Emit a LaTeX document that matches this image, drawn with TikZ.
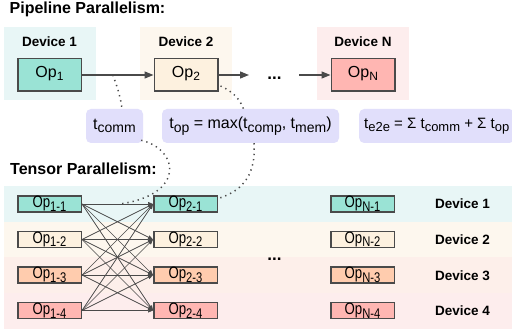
\documentclass[tikz,border=0pt]{standalone}
\usepackage{fontspec}
\setmainfont{Liberation Sans}
\usetikzlibrary{arrows.meta,calc}
\definecolor{cyanbg}{HTML}{E8F6F6}
\definecolor{cyanop}{HTML}{9AE3D5}
\definecolor{beigebg}{HTML}{FDF7EE}
\definecolor{beigeop}{HTML}{FDF1DF}
\definecolor{peachbg}{HTML}{FDEFEA}
\definecolor{peachop}{HTML}{FFCCAE}
\definecolor{pinkbg}{HTML}{FDEDED}
\definecolor{pinkop}{HTML}{FFB6B2}
\definecolor{lav}{HTML}{E1DFFB}
\definecolor{edgec}{HTML}{4A4A4A}
\newcommand\lowsub[2][14]{\raisebox{-3.5pt}{\fontsize{#1}{#1}\selectfont #2}}
\newcommand\tlab[1]{\scalebox{0.8}[1]{Op\lowsub[14]{#1}}}
\begin{document}
\begin{tikzpicture}[x=1pt,y=-1pt,
  bgbox/.style={draw=none, inner sep=0pt, outer sep=0pt, anchor=north west},
  opbox/.style={draw=edgec, line width=1.5pt, inner xsep=0pt, inner ysep=0pt, minimum width=63.5pt,
     text height=18.75pt, text depth=13.75pt, font=\fontsize{16}{18}\selectfont},
  tbox/.style={draw=edgec, line width=1.5pt, inner xsep=0pt, inner ysep=1pt, minimum width=63.5pt,
     text height=11pt, text depth=3pt, font=\fontsize{16.5}{18}\selectfont},
  devlab/.style={font=\bfseries\fontsize{13.5}{15}\selectfont, anchor=base, inner sep=0pt},
  title/.style={font=\bfseries\fontsize{16}{18}\selectfont, anchor=base west, inner sep=0pt},
  labbox/.style={fill=lav, rounded corners=5pt, minimum height=34pt, inner xsep=5pt,
     font=\fontsize{16}{18}\selectfont},
  flow/.style={draw=edgec, line width=1.3pt, -{Triangle[length=9pt,width=7pt]}},
  conn/.style={draw=edgec, line width=0.7pt, -{Triangle[length=5pt,width=4pt]}},
  dots/.style={draw=edgec, line width=1.5pt, dash pattern=on 1.3pt off 4pt},
  ell/.style={font=\bfseries\fontsize{17}{18}\selectfont, anchor=base, inner sep=0pt}]
\useasboundingbox (0,0) rectangle (512,334);
\clip (0,0) rectangle (512,334);
\fill[white] (0,0) rectangle (512,334);

% ---------- Pipeline ----------
\node[title] (tpipe) at (9.5,14) {Pipeline Parallelism:};

\node[bgbox, fill=cyanbg, minimum width=92pt, minimum height=73pt] (d1) at (4,27) {};
\node[bgbox, fill=beigebg, minimum width=92pt, minimum height=73pt] (d2) at (140,27) {};
\node[bgbox, fill=pinkbg, minimum width=92pt, minimum height=73pt] (dn) at (317,27) {};

\node[devlab] (l1) at (49.5,47) {Device 1};
\node[devlab] (l2) at (186,47) {Device 2};
\node[devlab] (ln) at (363,47) {Device N};

\node[opbox, fill=cyanop] (op1) at (49.5,75) {Op\lowsub[12]{1}};
\node[opbox, fill=beigeop] (op2) at (186,75) {Op\lowsub[12]{2}};
\node[opbox, fill=pinkop] (opn) at (363,75) {Op\lowsub[12]{N}};

\coordinate (c2) at (249,75);
\coordinate (cn) at (299,75);
\node[ell] (pdots) at (274.5,80) {...};
\draw[flow] (op1) -- (op2);
\draw[flow] (op2) -- (c2);
\draw[flow] (cn) -- (opn);

% ---------- labels ----------
\node[labbox, minimum width=57pt] (comm) at (114.5,126) {t\lowsub{comm}};
\node[labbox, minimum width=177pt] (top) at (250.5,126) {t\lowsub{op} = max(t\lowsub{comp}, t\lowsub{mem})};
\node[labbox, anchor=west, font=\fontsize{15}{17}\selectfont] (e2e) at (359,126) {t\lowsub[13]{e2e} = Σ t\lowsub[13]{comm} + Σ t\lowsub[13]{op}};

% ---------- Tensor ----------
\node[title] (ttens) at (10,175) {Tensor Parallelism:};

\node[bgbox, fill=cyanbg, minimum width=508pt, minimum height=36pt] (row1) at (4,186) {};
\node[bgbox, fill=beigebg, minimum width=508pt, minimum height=35pt] (row2) at (4,222) {};
\node[bgbox, fill=peachbg, minimum width=508pt, minimum height=36pt] (row3) at (4,257) {};
\node[bgbox, fill=pinkbg, minimum width=508pt, minimum height=36pt] (row4) at (4,293) {};

\foreach \i/\y/\c in {1/204/cyanop, 2/239.5/beigeop, 3/275/peachop, 4/310.5/pinkop}{
  \node[tbox, fill=\c] (a\i) at (49.5,\y) {\tlab{1-\i}};
  \node[tbox, fill=\c] (b\i) at (185.5,\y) {\tlab{2-\i}};
  \node[tbox, fill=\c] (n\i) at (362.5,\y) {\tlab{N-\i}};
}
\node[devlab] (r1) at (462.5,209) {Device 1};
\node[devlab] (r2) at (462.5,245) {Device 2};
\node[devlab] (r3) at (462.5,280.5) {Device 3};
\node[devlab] (r4) at (462.5,316) {Device 4};
\node[ell] (tdots) at (274.5,261) {...};

\foreach \i in {1,...,4}{
  \foreach \j in {1,...,4}{
    \draw[conn] (a\i.east) -- (b\j.west);
  }
}

% ---------- dotted links ----------
\coordinate (pa) at ($(op1.east)!0.43!(op2.west)$);
\coordinate (pb) at ($(a1.east)!0.53!(b1.west)$);
\draw[dots] (pa) .. controls (118,88) and (121,100) .. ($(comm.north)+(7.5,0)$);
\draw[dots] ($(comm.south east)+(-2,-3)$) .. controls (180,150) and (185,195) .. (pb);
\draw[dots] ($(op2.south east)+(2,-6)$) .. controls (234,92) and (240,100) .. ($(top.north)+(-7,0)$);
\draw[dots] ($(top.south)+(3.5,0)$) .. controls (256,172) and (245,190) .. ($(b1.north east)+(1,3)$);
\end{tikzpicture}
\end{document}
